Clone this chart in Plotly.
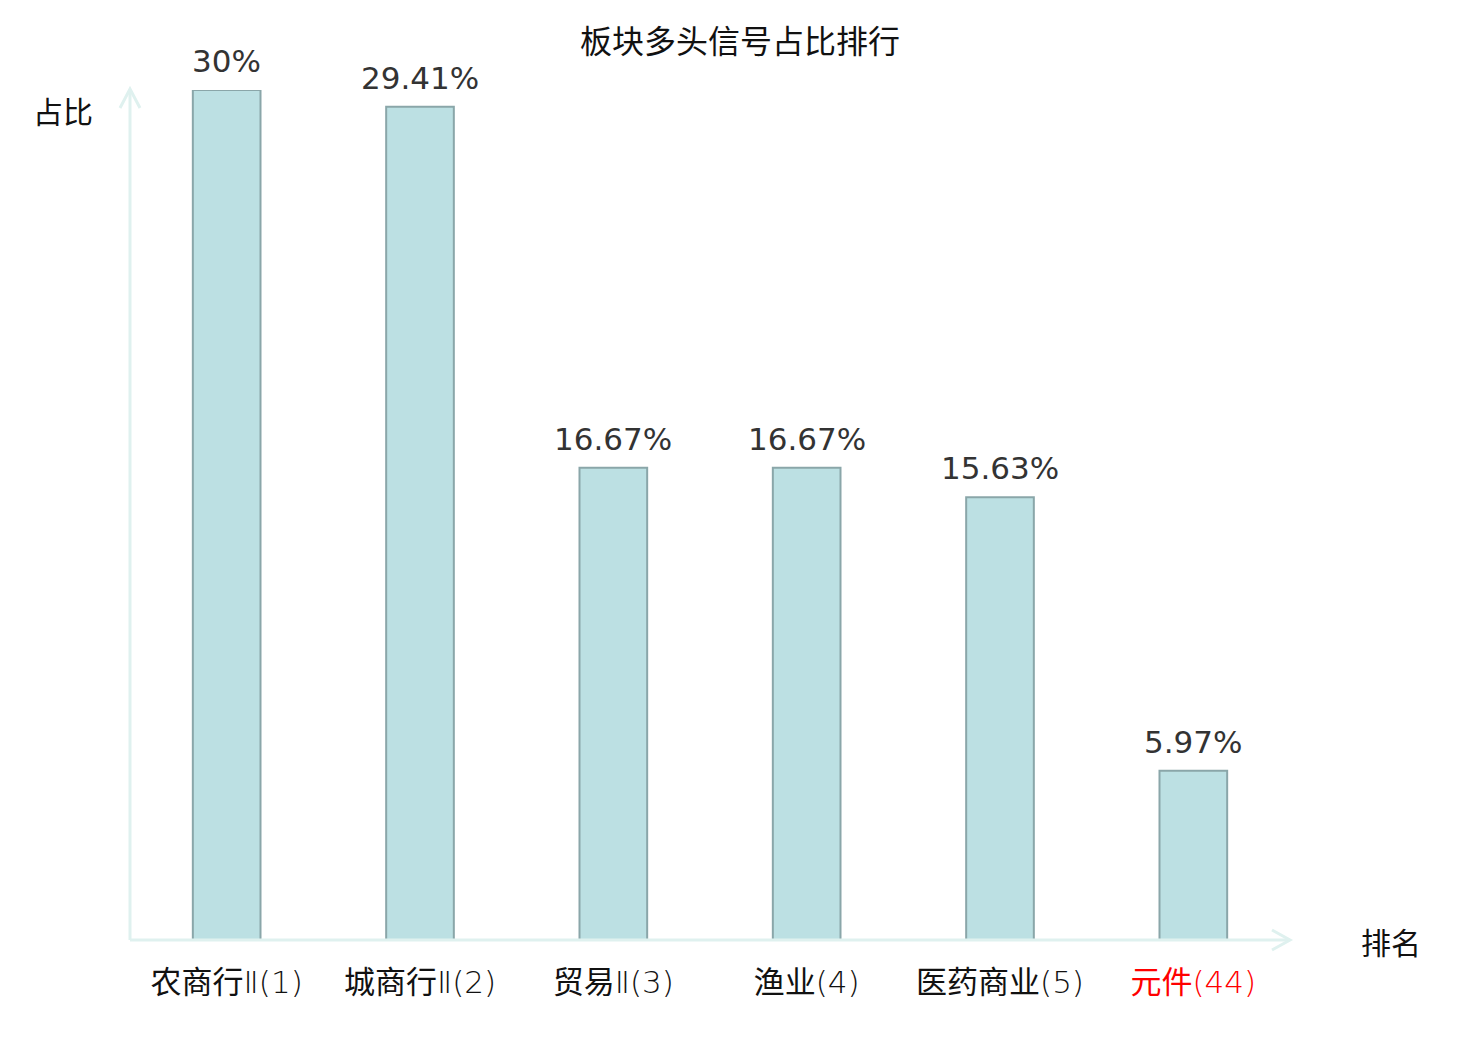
import re
import plotly.graph_objects as go

categories = ["农商行Ⅱ(1)", "城商行Ⅱ(2)", "贸易Ⅱ(3)", "渔业(4)", "医药商业(5)", "元件(44)"]
values = [30.0, 29.41, 16.67, 16.67, 15.63, 5.97]
value_labels = ["30%", "29.41%", "16.67%", "16.67%", "15.63%", "5.97%"]
highlight = "元件(44)"

# page body has an 8px margin, so work in reference pixels and shift by OFF
OFF = 8
W, H = 1480 - OFF, 1040 - OFF
X0, X1, Y0, Y1 = 130 - OFF, 1290 - OFF, 940 - OFF, 90 - OFF  # plot area in figure px
L, R, T, B = X0, W - X1, Y1, H - Y0
pw, ph = X1 - X0, Y0 - Y1


def px(x):
    return (x - OFF - X0) / pw


def py(y):
    return (Y0 - (y - OFF)) / ph


def styled(label):
    # CJK in regular weight, Latin / digits / roman numerals in a thin face
    parts = re.split(r"([\u4e00-\u9fff]+)", label)
    out = ""
    for p in parts:
        if not p:
            continue
        if re.match(r"[\u4e00-\u9fff]", p):
            out += p
        else:
            out += f'<span style="font-family:DejaVu Sans;font-weight:200">{p}</span>'
    if label == highlight:
        out = f'<span style="color:#ff0000">{out}</span>'
    return out


ticktext = [styled(c) for c in categories]

fig = go.Figure(
    go.Bar(
        x=categories,
        y=values,
        marker=dict(color="#bce0e3", line=dict(color="#8aa6a9", width=2)),
        hoverinfo="skip",
    )
)

axis_color = "#dff1ef"
shapes = [
    dict(type="line", xref="paper", yref="paper", x0=0, x1=0, y0=0, y1=py(89),
         line=dict(color=axis_color, width=3)),
    dict(type="line", xref="paper", yref="paper", x0=0, x1=px(1290), y0=0, y1=0,
         line=dict(color=axis_color, width=3)),
    dict(type="path", xref="paper", yref="paper",
         path=f"M {px(120)},{py(108)} L {px(130)},{py(89)} L {px(140)},{py(108)}",
         line=dict(color=axis_color, width=3)),
    dict(type="path", xref="paper", yref="paper",
         path=f"M {px(1272)},{py(930)} L {px(1290)},{py(940)} L {px(1272)},{py(950)}",
         line=dict(color=axis_color, width=3)),
]

annotations = [
    dict(text="占比", xref="paper", yref="paper", x=px(63), y=py(110),
         showarrow=False, font=dict(family="Noto Sans CJK SC", size=30, color="#111111"),
         xanchor="center", yanchor="middle"),
    dict(text="排名", xref="paper", yref="paper", x=px(1391), y=py(941),
         showarrow=False, font=dict(family="Noto Sans CJK SC", size=30, color="#111111"),
         xanchor="center", yanchor="middle"),
]
for c, v, t in zip(categories, values, value_labels):
    annotations.append(
        dict(text=t, x=c, y=v, xref="x", yref="y", showarrow=False,
             xanchor="center", yanchor="bottom", yshift=9,
             font=dict(family="DejaVu Sans", size=31, color="#333333"))
    )

fig.update_layout(
    width=W, height=H,
    margin=dict(l=L, r=R, t=T, b=B, autoexpand=False),
    paper_bgcolor="white", plot_bgcolor="white",
    title=dict(text="板块多头信号占比排行", x=px(740), xref="paper", y=1 - (42 - OFF) / H,
               yanchor="middle", xanchor="center",
               font=dict(family="Noto Sans CJK SC", size=32, color="#111111")),
    bargap=0.65,
    showlegend=False,
    shapes=shapes,
    annotations=annotations,
    xaxis=dict(tickmode="array", tickvals=categories, ticktext=ticktext,
               showline=False, showgrid=False, zeroline=False, ticks="",
               tickfont=dict(family="Noto Sans CJK SC", size=31, color="#111111"),
               ticklabelstandoff=21),
    yaxis=dict(range=[0, 30], showticklabels=False, showgrid=False, zeroline=False,
               showline=False, ticks=""),
)

fig.write_html("out.html")
